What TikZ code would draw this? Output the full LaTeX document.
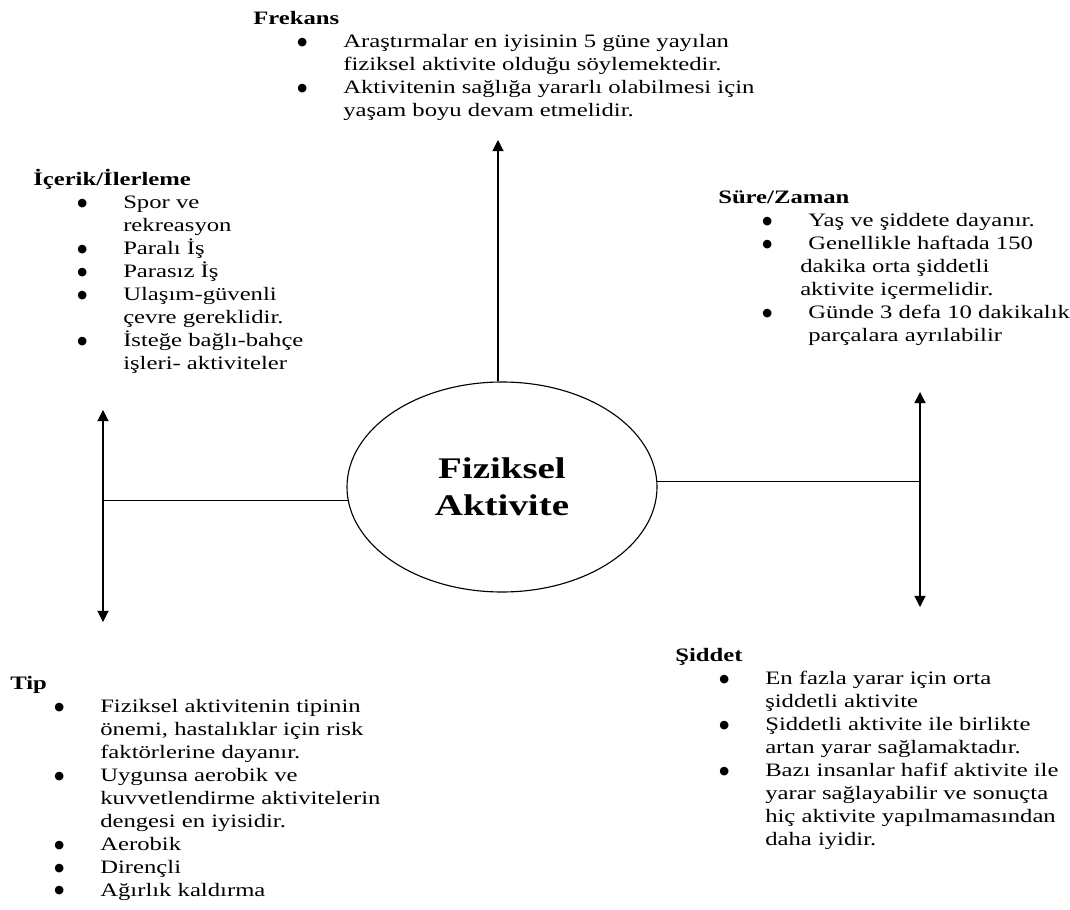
\documentclass[tikz,border=0pt]{standalone}
\usepackage{fontspec}
\setmainfont[FakeStretch=1.3]{Liberation Serif}
\newfontfamily\symfont{DejaVu Sans}
\usepackage{tikz}
\usetikzlibrary{arrows.meta, shapes.geometric}

\newcommand{\txtsize}{\fontsize{13.5}{16.35}\selectfont}
\newcommand{\midsize}{\fontsize{21.3}{26.3}\selectfont}
\newcommand{\blt}{\raisebox{1.6pt}{\symfont\fontsize{8}{8}\selectfont ●}}

\begin{document}
\begin{tikzpicture}[
    blk/.style={anchor=north west, inner sep=0pt, font=\txtsize},
    core/.style={ellipse, draw, line width=0.8pt, minimum width=7.75cm, minimum height=5.25cm, inner sep=0pt, align=center, font=\midsize\bfseries},
    line/.style={line width=0.8pt},
    arrow/.style={->, >={Triangle[length=8pt,width=8pt]}, line width=0.8pt}
]
    \useasboundingbox (0,0) rectangle (26.75,-22.75);

    % Centre
    \node[core] (fa) at (12.55,-12.175) {Fiziksel\\Aktivite};

    % Text blocks
    \node[blk] (frekans) at (6.325,-0.2) {\begin{tabular}{@{\hspace{1.1cm}}p{1.15cm}@{}l@{}}
        \multicolumn{2}{@{}l@{}}{\textbf{Frekans}}\\
        \blt & Araştırmalar en iyisinin 5 güne yayılan\\
             & fiziksel aktivite olduğu söylemektedir.\\
        \blt & Aktivitenin sağlığa yararlı olabilmesi için\\
             & yaşam boyu devam etmelidir.
    \end{tabular}};
    \node[blk] (icerik) at (0.825,-4.225) {\begin{tabular}{@{\hspace{1.1cm}}p{1.15cm}@{}l@{}}
        \multicolumn{2}{@{}l@{}}{\textbf{İçerik/İlerleme}}\\
        \blt & Spor ve\\
             & rekreasyon\\
        \blt & Paralı İş\\
        \blt & Parasız İş\\
        \blt & Ulaşım-güvenli\\
             & çevre gereklidir.\\
        \blt & İsteğe bağlı-bahçe\\
             & işleri- aktiviteler
    \end{tabular}};
    \node[blk] (sure) at (17.95,-4.675) {\begin{tabular}{@{\hspace{1.1cm}}p{1.15cm}@{}l@{}}
        \multicolumn{2}{@{}l@{}}{\textbf{Süre/Zaman}}\\
        \blt & Yaş ve şiddete dayanır.\\
        \blt & Genellikle haftada 150\\
             & \hspace*{-0.2cm}dakika orta şiddetli\\
             & \hspace*{-0.2cm}aktivite içermelidir.\\
        \blt & Günde 3 defa 10 dakikalık\\
             & parçalara ayrılabilir
    \end{tabular}};
    \node[blk] (tip) at (0.25,-16.825) {\begin{tabular}{@{\hspace{1.1cm}}p{1.15cm}@{}l@{}}
        \multicolumn{2}{@{}l@{}}{\textbf{Tip}}\\
        \blt & Fiziksel aktivitenin tipinin\\
             & önemi, hastalıklar için risk\\
             & faktörlerine dayanır.\\
        \blt & Uygunsa aerobik ve\\
             & kuvvetlendirme aktivitelerin\\
             & dengesi en iyisidir.\\
        \blt & Aerobik\\
        \blt & Dirençli\\
        \blt & Ağırlık kaldırma
    \end{tabular}};
    \node[blk] (siddet) at (16.875,-16.125) {\begin{tabular}{@{\hspace{1.1cm}}p{1.15cm}@{}l@{}}
        \multicolumn{2}{@{}l@{}}{\textbf{Şiddet}}\\
        \blt & En fazla yarar için orta\\
             & şiddetli aktivite\\
        \blt & Şiddetli aktivite ile birlikte\\
             & artan yarar sağlamaktadır.\\
        \blt & Bazı insanlar hafif aktivite ile\\
             & yarar sağlayabilir ve sonuçta\\
             & hiç aktivite yapılmamasından\\
             & daha iyidir.
    \end{tabular}};

    % Arrow ends
    \coordinate (up) at (12.45,-3.5);
    \coordinate (lt) at (2.575,-10.25);
    \coordinate (lb) at (2.575,-15.55);
    \coordinate (rt) at (23.0,-9.8);
    \coordinate (rb) at (23.0,-15.175);

    % Arrows
    \draw[arrow] (fa.north -| up) -- (up);
    \draw[line] (fa.185) -- (fa.185 -| lt);
    \draw[arrow, <->] (lt) -- (lb);
    \draw[line] (fa.2) -- (fa.2 -| rt);
    \draw[arrow, <->] (rt) -- (rb);
\end{tikzpicture}
\end{document}
